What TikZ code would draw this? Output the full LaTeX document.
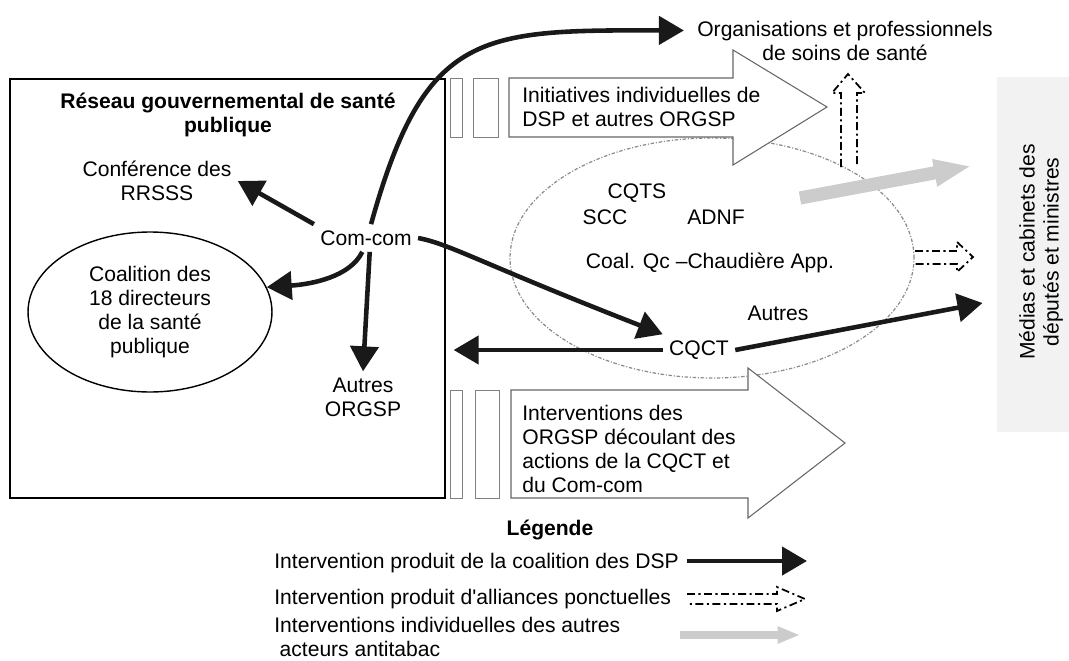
\documentclass[tikz,border=0pt]{standalone}
\usepackage{fontspec}
\setmainfont{Liberation Sans}
\usetikzlibrary{arrows.meta,shapes.geometric,calc}

\begin{document}
\begin{tikzpicture}[x=0.02cm,y=-0.02cm,line width=0.6pt,>={Triangle[length=0.5cm,width=0.56cm]},
   every node/.style={font=\fontsize{12}{13.6}\selectfont,align=center},
   coal/.style={->,line width=2.6pt,black!90},
   bigarrow/.style={draw=black!60,fill=white,line width=0.6pt},
   bar/.style={draw=black!50,line width=0.5pt},
   alliance/.style={line width=1pt,dash pattern=on 4.5pt off 2pt on 1.2pt off 2pt},
   indiv/.style={line width=7.5pt,black!20,-{Triangle[length=0.75cm,width=0.5cm]}},
   network/.style={draw=black!45,dash pattern=on 2pt off 1pt on 0.6pt off 1pt,line width=0.7pt}]
  \useasboundingbox (0,0) rectangle (1069,660);

  % reseau gouvernemental
  \node[draw,line width=0.9pt,minimum width=8.7cm,minimum height=8.38cm,inner sep=0] (reseau) at (227.5,288.5) {};
  \node[font=\bfseries\fontsize{12}{13.6}\selectfont] (titre) at (228,115) {Réseau gouvernemental de santé\\publique};
  \node (conf) at (157,181) {Conférence des\\RRSSS};
  \node (comcom) at (366,238) {Com-com};
  \node[draw,ellipse,minimum width=4.88cm,minimum height=3.2cm,line width=0.8pt] (dirs) at (150,312) {Coalition des\\18 directeurs\\de la santé\\publique};
  \node (autorg) at (363,397) {Autres\\ORGSP};

  % acteurs non gouvernementaux
  \node[network,ellipse,minimum width=8.08cm,minimum height=4.8cm] (network) at (712,258) {};
  \node (cqts) at (637,193) {CQTS};
  \node (scc) at (605,217) {SCC};
  \node (adnf) at (716,217) {ADNF};
  \node (coalqc) at (710,263) {Coal. Qc –Chaudière App.};
  \node (autres) at (778,313) {Autres};
  \node (cqct) at (699,350) {CQCT};

  % grandes fleches
  \draw[bar] (450,78) rectangle (462,137);
  \draw[bar] (473,78) rectangle (498,137);
  \draw[bigarrow] (509,78) -- (733,78) -- (733,50) -- (827,107) -- (733,165) -- (733,137) -- (509,137) -- cycle;
  \node[anchor=west,align=left] (initdsp) at (516,107) {Initiatives individuelles de\\DSP et autres ORGSP};
  \draw[bar] (450,390) rectangle (462,498);
  \draw[bar] (475,390) rectangle (499,498);
  \draw[bigarrow] (511,390) -- (748,390) -- (748,368) -- (845,443) -- (748,518) -- (748,498) -- (511,498) -- cycle;
  \node[anchor=west,align=left] (intorg) at (516,449) {Interventions des\\ORGSP découlant des\\actions de la CQCT et\\du Com-com};

  \node (orgs) at (845,41) {Organisations et professionnels\\de soins de santé};
  \node[fill=black!5,minimum width=1.44cm,minimum height=7.1cm,inner sep=0] (medias) at (1033,254.5) {};
  \node[rotate=90] (mediastxt) at (1041,252) {Médias et cabinets des\\députés et ministres};

  % alliances ponctuelles, initiatives individuelles
  \coordinate (g0) at (800,198);
  \draw[indiv] (g0) -- ($(medias.west)+(-25,-88.5)$);
  \draw[alliance] (841,167) -- (841,93) -- (832,93) -- (848,74) -- (865,93) -- (857,93) -- (857,167);
  \draw[alliance] (915,251) -- (957,251) -- (957,242) -- (973,257) -- (957,272) -- (957,264) -- (915,264);

  % coalition des DSP
  \draw[coal] (comcom.north west) -- (conf.east);
  \draw[coal] (comcom.-105) .. controls +(-12,25) and +(45,-3) .. (dirs.12);
  \draw[coal] (comcom.-75) -- (autorg.north);
  \draw[coal] (comcom.70) .. controls (425,30) and (480,30) .. ([xshift=-4pt,yshift=6pt]orgs.west);
  \draw[coal] (comcom.east) .. controls (450,244) and (480,263) .. (cqct.north west);
  \draw[coal] (cqct.west) -- ([xshift=4.5pt]reseau.east |- cqct.west);
  \draw[coal] (cqct.east) -- ($(medias.west)+(-14,48.5)$);

  % legende
  \node[font=\bfseries\fontsize{12}{13.6}\selectfont] (legende) at (550,530) {Légende};
  \node[anchor=west,align=left] (leg1) at (268,563) {Intervention produit de la coalition des DSP};
  \node[anchor=west,align=left] (leg2) at (268,599) {Intervention produit d\textquotesingle alliances ponctuelles};
  \node[anchor=west,align=left] (leg3) at (268,637) {Interventions individuelles des autres\\\hspace{0.25em}acteurs antitabac};
  \draw[coal] (687,561) -- (807,561);
  \draw[alliance] (687,594) -- (777,594) -- (777,587) -- (805,599) -- (777,611) -- (777,604) -- (687,604);
  \draw[indiv,line width=4.5pt,-{Triangle[length=0.45cm,width=0.32cm]}] (680,635) -- (800,635);
\end{tikzpicture}
\end{document}
